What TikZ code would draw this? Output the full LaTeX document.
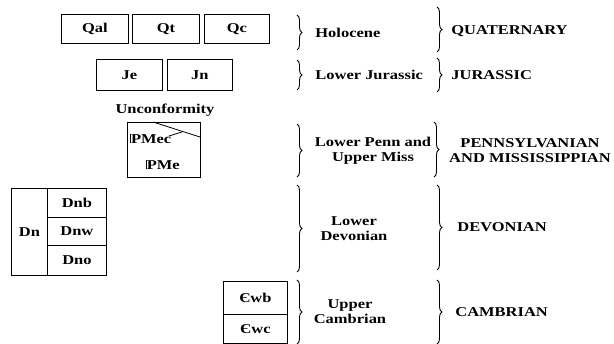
\documentclass[tikz,border=0pt]{standalone}
\usepackage{fontspec}
\setmainfont[FakeStretch=1.22]{Liberation Serif}
\usetikzlibrary{decorations.pathreplacing}

% symbols used in the unit names
\newcommand{\pennsym}{\makebox[0pt][l]{\kern-0.02em\rule{0.08em}{0.66em}}\kern0.05em P}
\newcommand{\cambsym}{Є}

\begin{document}
\begin{tikzpicture}[x=1pt, y=-1pt, line width=0.8pt,
    font=\fontsize{13.5}{15}\selectfont\bfseries,
    unit/.style={draw, inner sep=0pt, anchor=north west},
    brc/.style={decorate, decoration={brace, amplitude=5pt}, line width=0.9pt},
    lbl/.style={align=center, inner sep=0pt}]

  \useasboundingbox (0,0) rectangle (614,344);

  % map units
  \node[unit, minimum width=67pt, minimum height=29pt] (qal) at (61,14) {Qal};
  \node[unit, minimum width=67pt, minimum height=29pt] (qt)  at (132,14) {Qt};
  \node[unit, minimum width=65pt, minimum height=29pt] (qc)  at (204,14) {Qc};
  \node[unit, minimum width=66pt, minimum height=31pt] (je)  at (96,59) {Je};
  \node[unit, minimum width=65pt, minimum height=31pt] (jn)  at (167,59) {Jn};

  \node[lbl] (unconf) at (165,110) {Unconformity};

  \node[unit, minimum width=73pt, minimum height=55pt] (pme) at (127,122) {};
  \node[lbl, anchor=west] (pmectxt) at (130,139) {\pennsym Mec};
  \node[lbl] (pmetxt) at (163,165) {\pennsym Me};
  \coordinate (cTop) at (153,122);
  \coordinate (cRight) at (200,137);
  \coordinate (cHit) at (182,132);
  \draw (cTop) -- (cRight);
  \draw (pmectxt.north east) ++(-3,2) -- (cHit);

  \node[unit, minimum width=95pt, minimum height=87pt] (dngrp) at (11,188) {};
  \node[unit, minimum width=36pt, minimum height=87pt] (dn)  at (11,188) {Dn};
  \node[unit, minimum width=59pt, minimum height=29pt] (dnb) at (47,188) {Dnb};
  \node[unit, minimum width=59pt, minimum height=28pt] (dnw) at (47,217) {Dnw};
  \node[unit, minimum width=59pt, minimum height=30pt] (dno) at (47,245) {Dno};

  \node[unit, minimum width=64pt, minimum height=33pt] (cwb) at (223,281) {\cambsym wb};
  \node[unit, minimum width=64pt, minimum height=29pt] (cwc) at (223,314) {\cambsym wc};

  % series braces
  \draw[brc] (297,15) -- (297,50);
  \draw[brc] (297,60) -- (297,90);
  \draw[brc] (297,124) -- (297,177);
  \draw[brc] (297,185) -- (297,272);
  \draw[brc] (297,280) -- (297,344);

  \node[lbl, anchor=west] (holo) at (315,33) {Holocene};
  \node[lbl, anchor=west] (ljur) at (315,75) {Lower Jurassic};
  \node[lbl] (lpenn) at (373,151) {Lower Penn and\\Upper Miss};
  \node[lbl] (ldev) at (354,229) {Lower\\Devonian};
  \node[lbl] (ucamb) at (350,312) {Upper\\Cambrian};

  % system braces
  \draw[brc] (437,7) -- (437,52);
  \draw[brc] (437,58) -- (437,92);
  \draw[brc] (434,122) -- (434,177);
  \draw[brc] (437,185) -- (437,270);
  \draw[brc] (437,280) -- (437,344);

  \node[lbl, anchor=west] (quat) at (451,31) {QUATERNARY};
  \node[lbl, anchor=west] (jura) at (451,75) {JURASSIC};
  \node[lbl] (pennmiss) at (530,151) {PENNSYLVANIAN\\AND MISSISSIPPIAN};
  \node[lbl, anchor=west] (devo) at (457,227) {DEVONIAN};
  \node[lbl, anchor=west] (camb) at (455,312) {CAMBRIAN};

\end{tikzpicture}
\end{document}
